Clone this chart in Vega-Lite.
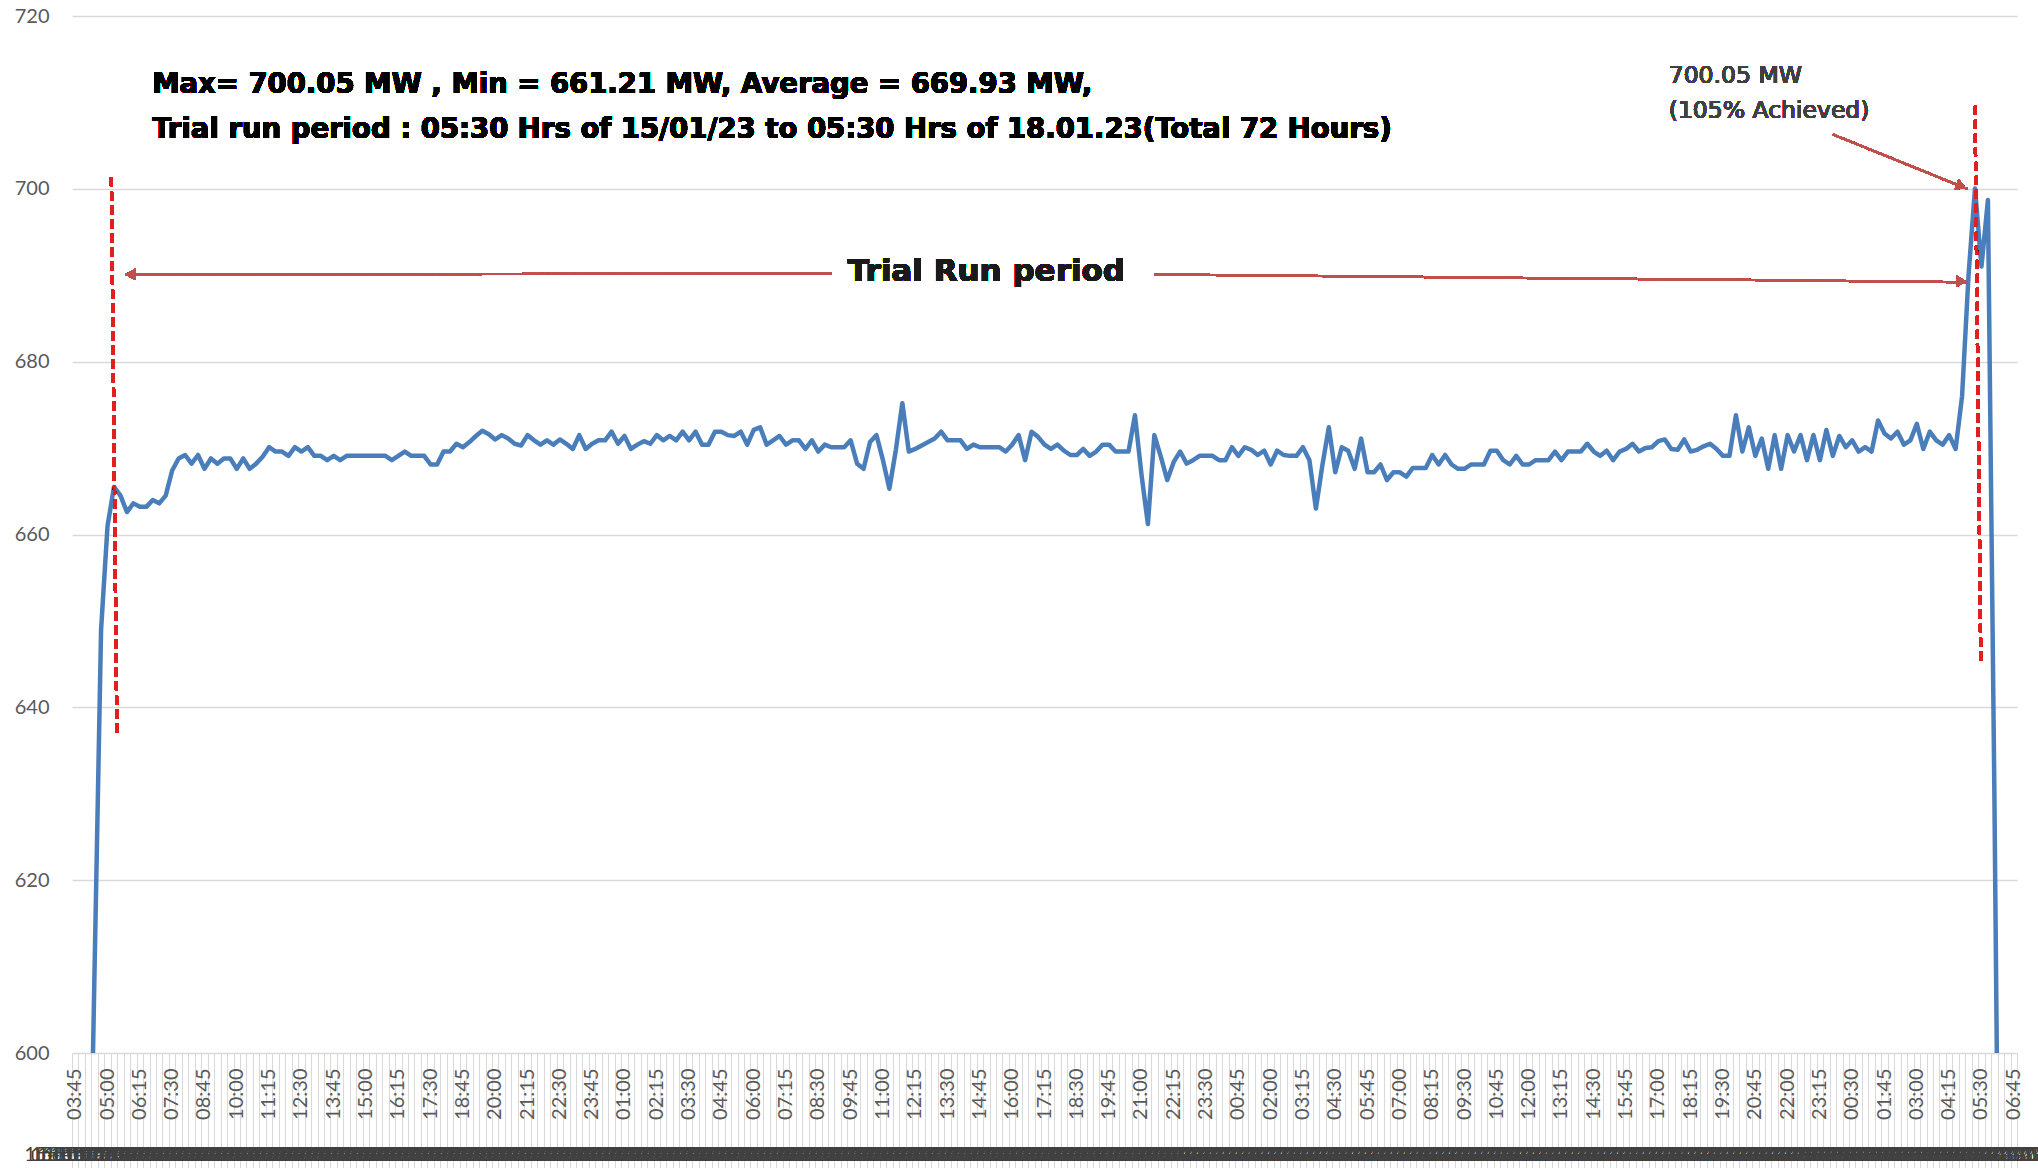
{
  "$schema": "https://vega.github.io/schema/vega-lite/v6.json",
  "width": 1945,
  "height": 1037,
  "autosize": {"type": "none"},
  "padding": {"left": 72, "top": 16, "right": 21, "bottom": 115},
  "background": "white",
  "config": {"view": {"stroke": null}, "font": "Lato"},
  "datasets": {
    "power": [
      {"time":"15-01-2023 03:45","mw":480},{"time":"15-01-2023 04:00","mw":520},{"time":"15-01-2023 04:15","mw":570},{"time":"15-01-2023 04:30","mw":610},
      {"time":"15-01-2023 04:45","mw":649},{"time":"15-01-2023 05:00","mw":661},{"time":"15-01-2023 05:15","mw":665.5},{"time":"15-01-2023 05:30","mw":664.5},
      {"time":"15-01-2023 05:45","mw":662.6},{"time":"15-01-2023 06:00","mw":663.6},{"time":"15-01-2023 06:15","mw":663.2},{"time":"15-01-2023 06:30","mw":663.2},
      {"time":"15-01-2023 06:45","mw":664.0},{"time":"15-01-2023 07:00","mw":663.6},{"time":"15-01-2023 07:15","mw":664.5},{"time":"15-01-2023 07:30","mw":667.4},
      {"time":"15-01-2023 07:45","mw":668.8},{"time":"15-01-2023 08:00","mw":669.2},{"time":"15-01-2023 08:15","mw":668.2},{"time":"15-01-2023 08:30","mw":669.2},
      {"time":"15-01-2023 08:45","mw":667.6},{"time":"15-01-2023 09:00","mw":668.8},{"time":"15-01-2023 09:15","mw":668.2},{"time":"15-01-2023 09:30","mw":668.8},
      {"time":"15-01-2023 09:45","mw":668.8},{"time":"15-01-2023 10:00","mw":667.6},{"time":"15-01-2023 10:15","mw":668.8},{"time":"15-01-2023 10:30","mw":667.6},
      {"time":"15-01-2023 10:45","mw":668.2},{"time":"15-01-2023 11:00","mw":669.0},{"time":"15-01-2023 11:15","mw":670.1},{"time":"15-01-2023 11:30","mw":669.6},
      {"time":"15-01-2023 11:45","mw":669.6},{"time":"15-01-2023 12:00","mw":669.1},{"time":"15-01-2023 12:15","mw":670.1},{"time":"15-01-2023 12:30","mw":669.6},
      {"time":"15-01-2023 12:45","mw":670.1},{"time":"15-01-2023 13:00","mw":669.1},{"time":"15-01-2023 13:15","mw":669.1},{"time":"15-01-2023 13:30","mw":668.6},
      {"time":"15-01-2023 13:45","mw":669.1},{"time":"15-01-2023 14:00","mw":668.6},{"time":"15-01-2023 14:15","mw":669.1},{"time":"15-01-2023 14:30","mw":669.1},
      {"time":"15-01-2023 14:45","mw":669.1},{"time":"15-01-2023 15:00","mw":669.1},{"time":"15-01-2023 15:15","mw":669.1},{"time":"15-01-2023 15:30","mw":669.1},
      {"time":"15-01-2023 15:45","mw":669.1},{"time":"15-01-2023 16:00","mw":668.6},{"time":"15-01-2023 16:15","mw":669.1},{"time":"15-01-2023 16:30","mw":669.6},
      {"time":"15-01-2023 16:45","mw":669.1},{"time":"15-01-2023 17:00","mw":669.1},{"time":"15-01-2023 17:15","mw":669.1},{"time":"15-01-2023 17:30","mw":668.1},
      {"time":"15-01-2023 17:45","mw":668.1},{"time":"15-01-2023 18:00","mw":669.6},{"time":"15-01-2023 18:15","mw":669.6},{"time":"15-01-2023 18:30","mw":670.5},
      {"time":"15-01-2023 18:45","mw":670.1},{"time":"15-01-2023 19:00","mw":670.7},{"time":"15-01-2023 19:15","mw":671.4},{"time":"15-01-2023 19:30","mw":672.0},
      {"time":"15-01-2023 19:45","mw":671.6},{"time":"15-01-2023 20:00","mw":671.0},{"time":"15-01-2023 20:15","mw":671.5},{"time":"15-01-2023 20:30","mw":671.1},
      {"time":"15-01-2023 20:45","mw":670.5},{"time":"15-01-2023 21:00","mw":670.3},{"time":"15-01-2023 21:15","mw":671.5},{"time":"15-01-2023 21:30","mw":670.9},
      {"time":"15-01-2023 21:45","mw":670.4},{"time":"15-01-2023 22:00","mw":670.9},{"time":"15-01-2023 22:15","mw":670.4},{"time":"15-01-2023 22:30","mw":671.0},
      {"time":"15-01-2023 22:45","mw":670.5},{"time":"15-01-2023 23:00","mw":669.9},{"time":"15-01-2023 23:15","mw":671.5},{"time":"15-01-2023 23:30","mw":669.9},
      {"time":"15-01-2023 23:45","mw":670.5},{"time":"16-01-2023 00:00","mw":670.9},{"time":"16-01-2023 00:15","mw":670.9},{"time":"16-01-2023 00:30","mw":671.9},
      {"time":"16-01-2023 00:45","mw":670.5},{"time":"16-01-2023 01:00","mw":671.4},{"time":"16-01-2023 01:15","mw":669.9},{"time":"16-01-2023 01:30","mw":670.4},
      {"time":"16-01-2023 01:45","mw":670.8},{"time":"16-01-2023 02:00","mw":670.5},{"time":"16-01-2023 02:15","mw":671.5},{"time":"16-01-2023 02:30","mw":670.9},
      {"time":"16-01-2023 02:45","mw":671.4},{"time":"16-01-2023 03:00","mw":670.9},{"time":"16-01-2023 03:15","mw":671.9},{"time":"16-01-2023 03:30","mw":670.9},
      {"time":"16-01-2023 03:45","mw":671.9},{"time":"16-01-2023 04:00","mw":670.4},{"time":"16-01-2023 04:15","mw":670.4},{"time":"16-01-2023 04:30","mw":671.9},
      {"time":"16-01-2023 04:45","mw":671.9},{"time":"16-01-2023 05:00","mw":671.5},{"time":"16-01-2023 05:15","mw":671.4},{"time":"16-01-2023 05:30","mw":671.9},
      {"time":"16-01-2023 05:45","mw":670.4},{"time":"16-01-2023 06:00","mw":672.1},{"time":"16-01-2023 06:15","mw":672.4},{"time":"16-01-2023 06:30","mw":670.4},
      {"time":"16-01-2023 06:45","mw":670.9},{"time":"16-01-2023 07:00","mw":671.4},{"time":"16-01-2023 07:15","mw":670.4},{"time":"16-01-2023 07:30","mw":670.9},
      {"time":"16-01-2023 07:45","mw":670.9},{"time":"16-01-2023 08:00","mw":669.9},{"time":"16-01-2023 08:15","mw":670.9},{"time":"16-01-2023 08:30","mw":669.6},
      {"time":"16-01-2023 08:45","mw":670.4},{"time":"16-01-2023 09:00","mw":670.1},{"time":"16-01-2023 09:15","mw":670.1},{"time":"16-01-2023 09:30","mw":670.1},
      {"time":"16-01-2023 09:45","mw":670.9},{"time":"16-01-2023 10:00","mw":668.2},{"time":"16-01-2023 10:15","mw":667.6},{"time":"16-01-2023 10:30","mw":670.7},
      {"time":"16-01-2023 10:45","mw":671.5},{"time":"16-01-2023 11:00","mw":668.6},{"time":"16-01-2023 11:15","mw":665.3},{"time":"16-01-2023 11:30","mw":669.8},
      {"time":"16-01-2023 11:45","mw":675.2},{"time":"16-01-2023 12:00","mw":669.6},{"time":"16-01-2023 12:15","mw":669.9},{"time":"16-01-2023 12:30","mw":670.3},
      {"time":"16-01-2023 12:45","mw":670.7},{"time":"16-01-2023 13:00","mw":671.1},{"time":"16-01-2023 13:15","mw":671.9},{"time":"16-01-2023 13:30","mw":670.9},
      {"time":"16-01-2023 13:45","mw":670.9},{"time":"16-01-2023 14:00","mw":670.9},{"time":"16-01-2023 14:15","mw":669.9},{"time":"16-01-2023 14:30","mw":670.4},
      {"time":"16-01-2023 14:45","mw":670.1},{"time":"16-01-2023 15:00","mw":670.1},{"time":"16-01-2023 15:15","mw":670.1},{"time":"16-01-2023 15:30","mw":670.1},
      {"time":"16-01-2023 15:45","mw":669.6},{"time":"16-01-2023 16:00","mw":670.4},{"time":"16-01-2023 16:15","mw":671.5},{"time":"16-01-2023 16:30","mw":668.6},
      {"time":"16-01-2023 16:45","mw":671.9},{"time":"16-01-2023 17:00","mw":671.3},{"time":"16-01-2023 17:15","mw":670.4},{"time":"16-01-2023 17:30","mw":669.9},
      {"time":"16-01-2023 17:45","mw":670.4},{"time":"16-01-2023 18:00","mw":669.7},{"time":"16-01-2023 18:15","mw":669.2},{"time":"16-01-2023 18:30","mw":669.2},
      {"time":"16-01-2023 18:45","mw":669.9},{"time":"16-01-2023 19:00","mw":669.1},{"time":"16-01-2023 19:15","mw":669.6},{"time":"16-01-2023 19:30","mw":670.4},
      {"time":"16-01-2023 19:45","mw":670.4},{"time":"16-01-2023 20:00","mw":669.6},{"time":"16-01-2023 20:15","mw":669.6},{"time":"16-01-2023 20:30","mw":669.6},
      {"time":"16-01-2023 20:45","mw":673.8},{"time":"16-01-2023 21:00","mw":667.0},{"time":"16-01-2023 21:15","mw":661.21},{"time":"16-01-2023 21:30","mw":671.5},
      {"time":"16-01-2023 21:45","mw":669.0},{"time":"16-01-2023 22:00","mw":666.3},{"time":"16-01-2023 22:15","mw":668.4},{"time":"16-01-2023 22:30","mw":669.6},
      {"time":"16-01-2023 22:45","mw":668.2},{"time":"16-01-2023 23:00","mw":668.6},{"time":"16-01-2023 23:15","mw":669.1},{"time":"16-01-2023 23:30","mw":669.1},
      {"time":"16-01-2023 23:45","mw":669.1},{"time":"17-01-2023 00:00","mw":668.6},{"time":"17-01-2023 00:15","mw":668.6},{"time":"17-01-2023 00:30","mw":670.1},
      {"time":"17-01-2023 00:45","mw":669.1},{"time":"17-01-2023 01:00","mw":670.1},{"time":"17-01-2023 01:15","mw":669.8},{"time":"17-01-2023 01:30","mw":669.2},
      {"time":"17-01-2023 01:45","mw":669.7},{"time":"17-01-2023 02:00","mw":668.1},{"time":"17-01-2023 02:15","mw":669.7},{"time":"17-01-2023 02:30","mw":669.2},
      {"time":"17-01-2023 02:45","mw":669.1},{"time":"17-01-2023 03:00","mw":669.1},{"time":"17-01-2023 03:15","mw":670.1},{"time":"17-01-2023 03:30","mw":668.6},
      {"time":"17-01-2023 03:45","mw":663.0},{"time":"17-01-2023 04:00","mw":668.0},{"time":"17-01-2023 04:15","mw":672.4},{"time":"17-01-2023 04:30","mw":667.2},
      {"time":"17-01-2023 04:45","mw":670.1},{"time":"17-01-2023 05:00","mw":669.7},{"time":"17-01-2023 05:15","mw":667.6},{"time":"17-01-2023 05:30","mw":671.1},
      {"time":"17-01-2023 05:45","mw":667.2},{"time":"17-01-2023 06:00","mw":667.2},{"time":"17-01-2023 06:15","mw":668.1},{"time":"17-01-2023 06:30","mw":666.3},
      {"time":"17-01-2023 06:45","mw":667.2},{"time":"17-01-2023 07:00","mw":667.2},{"time":"17-01-2023 07:15","mw":666.7},{"time":"17-01-2023 07:30","mw":667.7},
      {"time":"17-01-2023 07:45","mw":667.7},{"time":"17-01-2023 08:00","mw":667.7},{"time":"17-01-2023 08:15","mw":669.2},{"time":"17-01-2023 08:30","mw":668.1},
      {"time":"17-01-2023 08:45","mw":669.2},{"time":"17-01-2023 09:00","mw":668.1},{"time":"17-01-2023 09:15","mw":667.6},{"time":"17-01-2023 09:30","mw":667.6},
      {"time":"17-01-2023 09:45","mw":668.1},{"time":"17-01-2023 10:00","mw":668.1},{"time":"17-01-2023 10:15","mw":668.1},{"time":"17-01-2023 10:30","mw":669.7},
      {"time":"17-01-2023 10:45","mw":669.7},{"time":"17-01-2023 11:00","mw":668.6},{"time":"17-01-2023 11:15","mw":668.1},{"time":"17-01-2023 11:30","mw":669.1},
      {"time":"17-01-2023 11:45","mw":668.1},{"time":"17-01-2023 12:00","mw":668.1},{"time":"17-01-2023 12:15","mw":668.6},{"time":"17-01-2023 12:30","mw":668.6},
      {"time":"17-01-2023 12:45","mw":668.6},{"time":"17-01-2023 13:00","mw":669.6},{"time":"17-01-2023 13:15","mw":668.6},{"time":"17-01-2023 13:30","mw":669.6},
      {"time":"17-01-2023 13:45","mw":669.6},{"time":"17-01-2023 14:00","mw":669.6},{"time":"17-01-2023 14:15","mw":670.5},{"time":"17-01-2023 14:30","mw":669.6},
      {"time":"17-01-2023 14:45","mw":669.1},{"time":"17-01-2023 15:00","mw":669.7},{"time":"17-01-2023 15:15","mw":668.6},{"time":"17-01-2023 15:30","mw":669.6},
      {"time":"17-01-2023 15:45","mw":669.9},{"time":"17-01-2023 16:00","mw":670.5},{"time":"17-01-2023 16:15","mw":669.6},{"time":"17-01-2023 16:30","mw":670.0},
      {"time":"17-01-2023 16:45","mw":670.1},{"time":"17-01-2023 17:00","mw":670.8},{"time":"17-01-2023 17:15","mw":671.0},{"time":"17-01-2023 17:30","mw":669.9},
      {"time":"17-01-2023 17:45","mw":669.8},{"time":"17-01-2023 18:00","mw":671.0},{"time":"17-01-2023 18:15","mw":669.6},{"time":"17-01-2023 18:30","mw":669.8},
      {"time":"17-01-2023 18:45","mw":670.2},{"time":"17-01-2023 19:00","mw":670.5},{"time":"17-01-2023 19:15","mw":669.9},{"time":"17-01-2023 19:30","mw":669.1},
      {"time":"17-01-2023 19:45","mw":669.1},{"time":"17-01-2023 20:00","mw":673.8},{"time":"17-01-2023 20:15","mw":669.6},{"time":"17-01-2023 20:30","mw":672.4},
      {"time":"17-01-2023 20:45","mw":669.1},{"time":"17-01-2023 21:00","mw":671.1},{"time":"17-01-2023 21:15","mw":667.6},{"time":"17-01-2023 21:30","mw":671.5},
      {"time":"17-01-2023 21:45","mw":667.6},{"time":"17-01-2023 22:00","mw":671.5},{"time":"17-01-2023 22:15","mw":669.6},{"time":"17-01-2023 22:30","mw":671.5},
      {"time":"17-01-2023 22:45","mw":668.6},{"time":"17-01-2023 23:00","mw":671.5},{"time":"17-01-2023 23:15","mw":668.6},{"time":"17-01-2023 23:30","mw":672.1},
      {"time":"17-01-2023 23:45","mw":669.1},{"time":"18-01-2023 00:00","mw":671.4},{"time":"18-01-2023 00:15","mw":670.1},{"time":"18-01-2023 00:30","mw":670.9},
      {"time":"18-01-2023 00:45","mw":669.6},{"time":"18-01-2023 01:00","mw":670.1},{"time":"18-01-2023 01:15","mw":669.6},{"time":"18-01-2023 01:30","mw":673.2},
      {"time":"18-01-2023 01:45","mw":671.7},{"time":"18-01-2023 02:00","mw":671.1},{"time":"18-01-2023 02:15","mw":671.9},{"time":"18-01-2023 02:30","mw":670.4},
      {"time":"18-01-2023 02:45","mw":670.9},{"time":"18-01-2023 03:00","mw":672.8},{"time":"18-01-2023 03:15","mw":669.9},{"time":"18-01-2023 03:30","mw":671.9},
      {"time":"18-01-2023 03:45","mw":670.9},{"time":"18-01-2023 04:00","mw":670.4},{"time":"18-01-2023 04:15","mw":671.5},{"time":"18-01-2023 04:30","mw":669.9},
      {"time":"18-01-2023 04:45","mw":676.0},{"time":"18-01-2023 05:00","mw":690.0},{"time":"18-01-2023 05:15","mw":700.05},{"time":"18-01-2023 05:30","mw":691.0},
      {"time":"18-01-2023 05:45","mw":698.7},{"time":"18-01-2023 06:00","mw":630},{"time":"18-01-2023 06:15","mw":550},{"time":"18-01-2023 06:30","mw":null},
      {"time":"18-01-2023 06:45","mw":null}
    ]
  },
  "data": {"name": "power"},
  "resolve": {"axis": {"x": "independent", "y": "independent"}},
  "layer": [
    {
      "mark": {"type": "text", "text": "", "opacity": 0},
      "encoding": {
        "x": {
          "field": "time", "type": "ordinal",
          "scale": {"type": "band", "paddingInner": 0, "paddingOuter": 0},
          "axis": {
            "orient": "bottom", "offset": 0,
            "title": null, "domain": false, "grid": false, "ticks": true, "tickSize": 115,
            "tickBand": "extent", "tickColor": "#d9d9d9", "tickWidth": 1,
            "labelAngle": 0, "labelAlign": "center", "labelBaseline": "top", "labelPadding": -23,
            "labelOverlap": false, "labelBound": false, "labelFlush": false,
            "labelFontSize": 19, "labelColor": "#404040",
            "labelExpr": "substring(datum.value, 0, 10)"
          }
        }
      }
    },
    {
      "mark": {"type": "line", "color": "#4a7ebb", "strokeWidth": 4.5, "clip": true, "strokeJoin": "round"},
      "encoding": {
        "x": {
          "field": "time", "type": "ordinal",
          "scale": {"type": "band", "paddingInner": 0, "paddingOuter": 0},
          "axis": {
            "orient": "bottom", "offset": 0,
            "title": null, "domain": false, "ticks": false, "grid": false,
            "values": ["15-01-2023 03:45","15-01-2023 05:00","15-01-2023 06:15","15-01-2023 07:30","15-01-2023 08:45","15-01-2023 10:00","15-01-2023 11:15","15-01-2023 12:30","15-01-2023 13:45","15-01-2023 15:00","15-01-2023 16:15","15-01-2023 17:30","15-01-2023 18:45","15-01-2023 20:00","15-01-2023 21:15","15-01-2023 22:30","15-01-2023 23:45","16-01-2023 01:00","16-01-2023 02:15","16-01-2023 03:30","16-01-2023 04:45","16-01-2023 06:00","16-01-2023 07:15","16-01-2023 08:30","16-01-2023 09:45","16-01-2023 11:00","16-01-2023 12:15","16-01-2023 13:30","16-01-2023 14:45","16-01-2023 16:00","16-01-2023 17:15","16-01-2023 18:30","16-01-2023 19:45","16-01-2023 21:00","16-01-2023 22:15","16-01-2023 23:30","17-01-2023 00:45","17-01-2023 02:00","17-01-2023 03:15","17-01-2023 04:30","17-01-2023 05:45","17-01-2023 07:00","17-01-2023 08:15","17-01-2023 09:30","17-01-2023 10:45","17-01-2023 12:00","17-01-2023 13:15","17-01-2023 14:30","17-01-2023 15:45","17-01-2023 17:00","17-01-2023 18:15","17-01-2023 19:30","17-01-2023 20:45","17-01-2023 22:00","17-01-2023 23:15","18-01-2023 00:30","18-01-2023 01:45","18-01-2023 03:00","18-01-2023 04:15","18-01-2023 05:30","18-01-2023 06:45"],
            "labelExpr": "substring(datum.value, 11, 16)",
            "labelAngle": 270, "labelAlign": "right", "labelBaseline": "middle", "labelPadding": 15,
            "labelFontSize": 20, "labelColor": "#595959", "labelOverlap": false, "labelBound": false
          }
        },
        "y": {
          "field": "mw", "type": "quantitative",
          "scale": {"domain": [600, 720], "nice": false, "zero": false},
          "axis": {
            "title": null, "values": [600, 620, 640, 660, 680, 700, 720], "domain": false, "ticks": false,
            "grid": true, "gridColor": "#d9d9d9", "gridWidth": 1.3,
            "labelPadding": 23, "labelFontSize": 20, "labelColor": "#595959"
          }
        }
      }
    },
    {
      "mark": {"type": "rule", "color": "#e02020", "strokeWidth": 3, "strokeDash": [9, 5]},
      "encoding": {
        "x": {"datum": "15-01-2023 05:15", "type": "ordinal", "bandPosition": 0.1, "axis": null},
        "x2": {"datum": "15-01-2023 05:15", "bandPosition": 0.95},
        "y": {"datum": 701.3, "type": "quantitative", "axis": null},
        "y2": {"datum": 637.0}
      }
    },
    {
      "mark": {"type": "rule", "color": "#e02020", "strokeWidth": 3, "strokeDash": [9, 5]},
      "encoding": {
        "x": {"datum": "18-01-2023 05:15", "type": "ordinal", "bandPosition": 0.5, "axis": null},
        "x2": {"datum": "18-01-2023 05:30", "bandPosition": 0.4},
        "y": {"datum": 709.6, "type": "quantitative", "axis": null},
        "y2": {"datum": 645.1}
      }
    },
    {
      "mark": {"type": "rule", "color": "#c0504d", "strokeWidth": 2},
      "encoding": {
        "x": {"datum": "16-01-2023 09:00", "type": "ordinal", "axis": null},
        "x2": {"datum": "15-01-2023 05:45", "bandPosition": 0.3},
        "y": {"datum": 690.2, "type": "quantitative", "axis": null},
        "y2": {"datum": 690.1}
      }
    },
    {
      "mark": {"type": "point", "shape": "triangle-left", "filled": true, "opacity": 1, "color": "#c0504d", "size": 130},
      "encoding": {
        "x": {"datum": "15-01-2023 06:00", "type": "ordinal", "bandPosition": 0.0, "axis": null},
        "y": {"datum": 690.1, "type": "quantitative", "axis": null}
      }
    },
    {
      "mark": {"type": "rule", "color": "#c0504d", "strokeWidth": 2},
      "encoding": {
        "x": {"datum": "16-01-2023 21:30", "type": "ordinal", "axis": null},
        "x2": {"datum": "18-01-2023 05:00", "bandPosition": 0.3},
        "y": {"datum": 690.1, "type": "quantitative", "axis": null},
        "y2": {"datum": 689.2}
      }
    },
    {
      "mark": {"type": "point", "shape": "triangle-right", "filled": true, "opacity": 1, "color": "#c0504d", "size": 130, "angle": 1},
      "encoding": {
        "x": {"datum": "18-01-2023 04:45", "type": "ordinal", "bandPosition": 0.4, "axis": null},
        "y": {"datum": 689.3, "type": "quantitative", "axis": null}
      }
    },
    {
      "mark": {"type": "rule", "color": "#c0504d", "strokeWidth": 2},
      "encoding": {
        "x": {"datum": "17-01-2023 23:45", "type": "ordinal", "axis": null},
        "x2": {"datum": "18-01-2023 05:00", "bandPosition": 0.3},
        "y": {"datum": 706.3, "type": "quantitative", "axis": null},
        "y2": {"datum": 700.0}
      }
    },
    {
      "mark": {"type": "point", "shape": "triangle-right", "filled": true, "opacity": 1, "color": "#c0504d", "size": 130, "angle": 22},
      "encoding": {
        "x": {"datum": "18-01-2023 04:45", "type": "ordinal", "bandPosition": 0.35, "axis": null},
        "y": {"datum": 700.3, "type": "quantitative", "axis": null}
      }
    },
    {
      "mark": {"type": "text", "align": "left", "baseline": "alphabetic", "font": "DejaVu Sans", "fontSize": 27.5, "fontWeight": "bold", "color": "#000000", "lineHeight": 45.5,
        "text": ["Max= 700.05 MW , Min = 661.21  MW, Average = 669.93 MW,", "Trial run period : 05:30 Hrs of 15/01/23 to 05:30 Hrs of 18.01.23(Total 72 Hours)"]},
      "encoding": {
        "x": {"datum": "15-01-2023 06:45", "type": "ordinal", "bandPosition": 0.4, "axis": null},
        "y": {"datum": 711.1, "type": "quantitative", "axis": null}
      }
    },
    {
      "mark": {"type": "text", "align": "center", "baseline": "middle", "font": "DejaVu Sans", "fontSize": 31, "fontWeight": "bold", "color": "#1a1a1a", "text": "Trial Run period"},
      "encoding": {
        "x": {"datum": "16-01-2023 15:00", "type": "ordinal", "axis": null},
        "y": {"datum": 690.4, "type": "quantitative", "axis": null}
      }
    },
    {
      "mark": {"type": "text", "align": "left", "baseline": "alphabetic", "font": "DejaVu Sans", "fontSize": 23.5, "color": "#404040", "lineHeight": 35, "text": ["700.05 MW", "(105% Achieved)"]},
      "encoding": {
        "x": {"datum": "17-01-2023 17:30", "type": "ordinal", "bandPosition": 0.1, "axis": null},
        "y": {"datum": 712.3, "type": "quantitative", "axis": null}
      }
    }
  ]
}
